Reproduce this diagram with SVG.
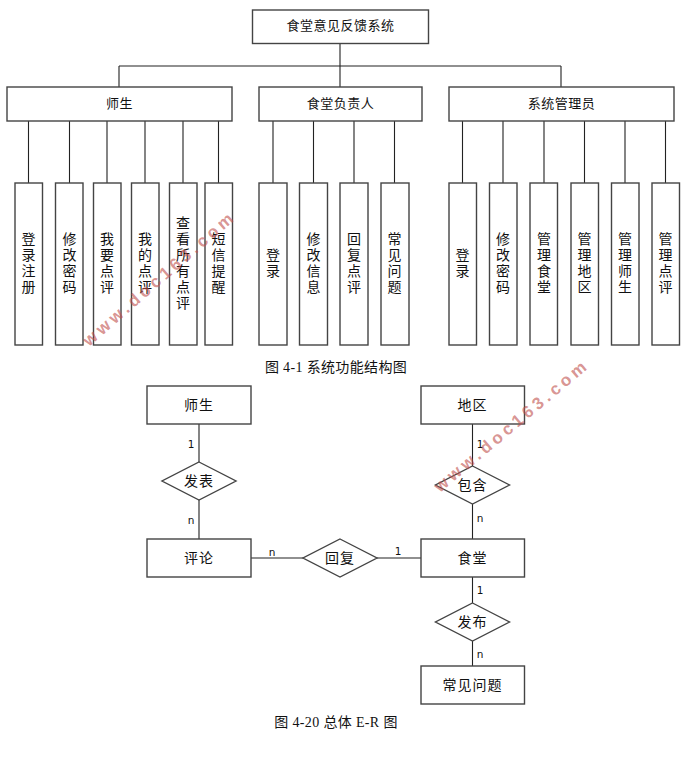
<svg xmlns="http://www.w3.org/2000/svg" width="695" height="777" viewBox="0 0 695 777">
<style>
text{font-family:"Noto Sans CJK SC","Noto Sans",sans-serif;fill:#111}
.b{fill:#fff;stroke:#444;stroke-width:1.4}
.l{fill:none;stroke:#222;stroke-width:1.1}
.t{font-size:13px;text-anchor:middle;letter-spacing:.5px}
.e{font-size:14px;text-anchor:middle;letter-spacing:1px}
.v{font-size:14px;text-anchor:middle;writing-mode:vertical-rl;letter-spacing:2px}
.c{font-size:14px;text-anchor:middle;letter-spacing:.35px;font-family:"Liberation Serif","Noto Sans CJK SC",serif}
.n{font-size:10.5px;text-anchor:middle;font-family:"DejaVu Sans",sans-serif}
.w{font-size:17px;font-weight:bold;font-family:"Liberation Sans",sans-serif;fill:#c0504d;fill-opacity:.62;letter-spacing:3.9px}
</style>
<g id="connectors">
<path class="l" d="M340 43V87M119 66H561M119 66V87M561 66V87"/>
<path class="l" d="M28.500 121V183M69.500 121V183M107 121V183M145 121V183M183 121V183M218.500 121V183"/>
<path class="l" d="M273 121V183M313.500 121V183M354 121V183M394.500 121V183"/>
<path class="l" d="M462.500 121V183M503 121V183M544 121V183M584.500 121V183M625 121V183M665.500 121V183"/>
<path class="l" d="M199 424V462M199 500V539M472.500 424V466M472.500 504V539M251 558H303M377 558H421M472.500 577V603M472.500 641V666"/>
</g>
<g id="root"><rect class="b" x="252.500" y="10" width="176" height="33.500"/><text class="t" x="340.500" y="30">食堂意见反馈系统</text></g>
<g id="group-teacher"><rect class="b" x="7" y="87" width="225" height="34"/><text class="t" x="119.500" y="107.500">师生</text></g>
<g id="group-canteen"><rect class="b" x="259" y="87" width="163" height="34"/><text class="t" x="340.500" y="107.500">食堂负责人</text></g>
<g id="group-admin"><rect class="b" x="449" y="87" width="225" height="34"/><text class="t" x="561.500" y="107.500">系统管理员</text></g>
<g id="leaf1"><rect class="b" x="15" y="183" width="27.500" height="162"/><text class="v" x="28.500" y="264">登录注册</text></g>
<g id="leaf2"><rect class="b" x="55.500" y="183" width="27.500" height="162"/><text class="v" x="69.500" y="264">修改密码</text></g>
<g id="leaf3"><rect class="b" x="93.500" y="183" width="27.500" height="162"/><text class="v" x="107" y="264">我要点评</text></g>
<g id="leaf4"><rect class="b" x="131.500" y="183" width="27.500" height="162"/><text class="v" x="145" y="264">我的点评</text></g>
<g id="leaf5"><rect class="b" x="169.500" y="183" width="27.500" height="162"/><text class="v" x="183" y="264">查看所有点评</text></g>
<g id="leaf6"><rect class="b" x="205" y="183" width="27.500" height="162"/><text class="v" x="218.500" y="264">短信提醒</text></g>
<g id="leaf7"><rect class="b" x="259" y="183" width="28" height="162"/><text class="v" x="273" y="264">登录</text></g>
<g id="leaf8"><rect class="b" x="299.500" y="183" width="28" height="162"/><text class="v" x="313.500" y="264">修改信息</text></g>
<g id="leaf9"><rect class="b" x="340" y="183" width="28" height="162"/><text class="v" x="354" y="264">回复点评</text></g>
<g id="leaf10"><rect class="b" x="381" y="183" width="28" height="162"/><text class="v" x="394.500" y="264">常见问题</text></g>
<g id="leaf11"><rect class="b" x="449" y="183" width="27.500" height="162"/><text class="v" x="462.500" y="264">登录</text></g>
<g id="leaf12"><rect class="b" x="489.500" y="183" width="27.500" height="162"/><text class="v" x="503" y="264">修改密码</text></g>
<g id="leaf13"><rect class="b" x="530" y="183" width="27.500" height="162"/><text class="v" x="544" y="264">管理食堂</text></g>
<g id="leaf14"><rect class="b" x="571" y="183" width="27.500" height="162"/><text class="v" x="584.500" y="264">管理地区</text></g>
<g id="leaf15"><rect class="b" x="611.500" y="183" width="27.500" height="162"/><text class="v" x="625" y="264">管理师生</text></g>
<g id="leaf16"><rect class="b" x="652" y="183" width="27.500" height="162"/><text class="v" x="665.500" y="264">管理点评</text></g>
<text class="c" x="336" y="372">图 4-1  系统功能结构图</text>
<g id="e-teacher"><rect class="b" x="147" y="386" width="104" height="38"/><text class="e" x="199" y="409.500">师生</text></g>
<g id="e-region"><rect class="b" x="421" y="386" width="103.500" height="38"/><text class="e" x="472.500" y="409.500">地区</text></g>
<g id="e-comment"><rect class="b" x="147" y="539" width="104" height="38"/><text class="e" x="199" y="562.500">评论</text></g>
<g id="e-canteen"><rect class="b" x="421" y="539" width="103.500" height="38"/><text class="e" x="472.500" y="562.500">食堂</text></g>
<g id="e-faq"><rect class="b" x="421" y="666" width="103.500" height="38"/><text class="e" x="472.500" y="689.500">常见问题</text></g>
<g id="r-publish"><path class="b" d="M199 462L236 481L199 500L162 481Z"/><text class="e" x="199" y="485.500">发表</text></g>
<g id="r-contain"><path class="b" d="M472.500 466L509.500 485L472.500 504L435.500 485Z"/><text class="e" x="472.500" y="489.500">包含</text></g>
<g id="r-reply"><path class="b" d="M340 539L377 558L340 577L303 558Z"/><text class="e" x="340" y="562.500">回复</text></g>
<g id="r-post"><path class="b" d="M472.500 603L509.500 622L472.500 641L435.500 622Z"/><text class="e" x="472.500" y="626.500">发布</text></g>
<g id="cardinalities">
<text class="n" x="191" y="448">1</text><text class="n" x="191" y="524">n</text>
<text class="n" x="480" y="448">1</text><text class="n" x="480" y="522">n</text>
<text class="n" x="272" y="556">n</text><text class="n" x="398" y="555">1</text>
<text class="n" x="480" y="594">1</text><text class="n" x="480" y="658">n</text>
</g>
<text class="c" x="336" y="727">图 4-20  总体 E-R 图</text>
<text class="w" transform="translate(89 347) rotate(-41)">www.doc163.com</text>
<text class="w" transform="translate(440 493) rotate(-40)">www.doc163.com</text>
</svg>
